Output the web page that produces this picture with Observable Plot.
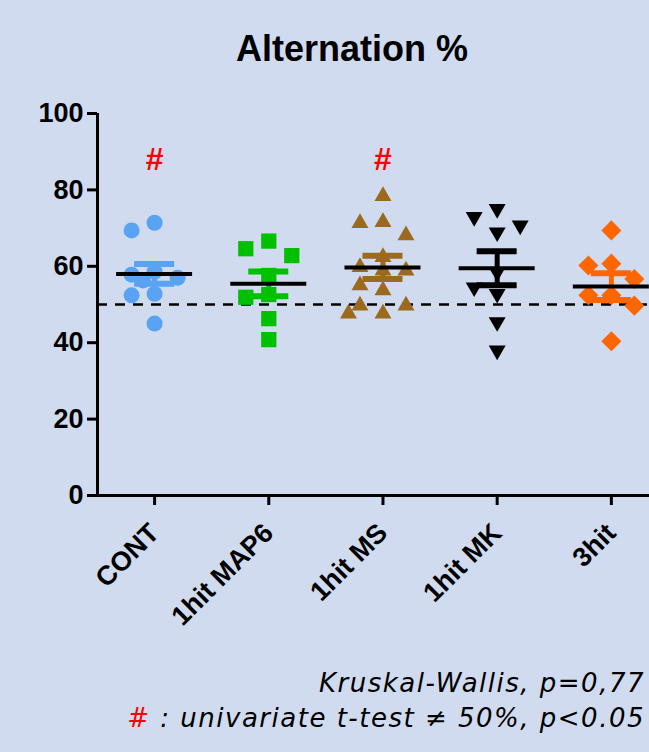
<!DOCTYPE html>
<html><head><meta charset="utf-8">
<script src="https://cdn.jsdelivr.net/npm/d3@7"></script>
<script src="https://cdn.jsdelivr.net/npm/@observablehq/plot@0.6"></script>
<style>
html,body{margin:0;padding:0;background:#d0dbef;}
#page{position:relative;width:649px;height:752px;overflow:hidden;background:#d0dbef;font-family:"Liberation Sans",Arial,sans-serif;color:#000;}
#title{position:absolute;top:29px;left:0;width:649px;padding-left:55px;box-sizing:border-box;text-align:center;font-weight:bold;font-size:36px;line-height:40px;}
#chart{position:absolute;top:90px;left:0;}
#caption{position:absolute;right:4px;top:666px;text-align:right;font-style:italic;font-size:26px;line-height:35px;letter-spacing:1.5px;font-family:"DejaVu Sans",sans-serif;white-space:nowrap;}
</style></head>
<body><div id="page">
<div id="title">Alternation %</div>
<div id="chart"></div>
<div id="caption">Kruskal-Wallis, p=0,77<br><span style="color:#ff0000">#</span> : univariate t-test ≠ 50%, p&lt;0.05</div>
</div>
<script>
// ---- data ----
const categories = ["CONT", "1hit MAP6", "1hit MS", "1hit MK", "3hit"];
const contValues = [71.4, 69.4, 58.6, 57.8, 57.0, 56.3, 52.8, 52.4, 45.0];
const map6Values = [66.6, 64.6, 62.8, 57.6, 52.6, 51.9, 46.3, 40.8];
const msValues = [78.4, 71.6, 71.3, 68.1, 62.4, 59.8, 58.9, 58.9, 55.0, 53.7, 49.7, 49.7, 47.6, 47.6];
const mkValues = [75.0, 72.9, 70.7, 68.9, 58.5, 54.5, 52.8, 45.4, 38.0];
const hit3Values = [69.4, 60.7, 60.2, 56.7, 52.4, 52.4, 49.7, 40.4];
const means = [58.0, 55.4, 59.7, 59.5, 54.7];
const sems = [2.6, 3.25, 3.05, 4.45, 3.5];
const significance = ["#", "", "#", "", ""];
const yTicks = [0, 20, 40, 60, 80, 100];
const chanceLevel = 50;
const sigLevel = 88;

// ---- styles ----
const groupValues = [contValues, map6Values, msValues, mkValues, hit3Values];
const colors = ["#5aa2f2", "#00c000", "#9b6a1f", "#000000", "#ff6600"];
const symbols = ["circle", "square", "triangle", "triangle", "square"];
const rotations = [0, 0, 0, 180, 45];
const radii = [8, 8.6, 6.3, 6.3, 8];

// ---- layout ----
const W = 649, H = 570, mL = 97, mR = 0, mT = 23, mB = 165;
const xDomain = [-0.5, 4.334];
const pxX = (W - mL - mR) / (xDomain[1] - xDomain[0]);
const pxY = (H - mT - mB) / 100;

// simple column-swarm layout (pixel offsets around the category centre)
function swarm(values, minDist) {
  const order = values.map((v, i) => i).sort((a, b) => values[b] - values[a]);
  const cands = [0, -23, 23, -11.5, 11.5, -34.5, 34.5];
  const placed = [];
  const off = new Array(values.length);
  for (const i of order) {
    const y = values[i] * pxY;
    let chosen = null, bestC = 0, bestD = -1;
    for (const c of cands) {
      let m = Infinity;
      for (const p of placed) m = Math.min(m, Math.hypot(c - p.x, y - p.y));
      if (m >= minDist) { chosen = c; break; }
      if (m > bestD) { bestD = m; bestC = c; }
    }
    if (chosen === null) chosen = bestC;
    placed.push({x: chosen, y});
    off[i] = chosen;
  }
  return off;
}

const marks = [];
marks.push(Plot.ruleY([chanceLevel], {stroke: "#000", strokeWidth: 2.5, strokeDasharray: "10,8"}));
groupValues.forEach((vals, g) => {
  const off = swarm(vals, 17);
  const pts = vals.map((v, i) => ({x: g + off[i] / pxX, v}));
  marks.push(Plot.dot(pts, {x: "x", y: "v", r: radii[g], symbol: symbols[g], rotate: rotations[g], fill: colors[g], stroke: "none"}));
});
const summary = means.map((m, i) => ({i, mean: m, sem: sems[i], color: colors[i], sig: significance[i]}));
const capHalf = 20 / pxX, meanHalf = 38 / pxX;
marks.push(Plot.ruleX(summary, {x: "i", y1: d => d.mean - d.sem, y2: d => d.mean + d.sem, stroke: "color", strokeWidth: 5}));
marks.push(Plot.ruleY(summary, {y: d => d.mean + d.sem, x1: d => d.i - capHalf, x2: d => d.i + capHalf, stroke: "color", strokeWidth: 6}));
marks.push(Plot.ruleY(summary, {y: d => d.mean - d.sem, x1: d => d.i - capHalf, x2: d => d.i + capHalf, stroke: "color", strokeWidth: 6}));
marks.push(Plot.ruleY(summary, {y: "mean", x1: d => d.i - meanHalf, x2: d => d.i + meanHalf, stroke: "#000", strokeWidth: 4}));
marks.push(Plot.text(summary.filter(d => d.sig), {x: "i", y: () => sigLevel, text: "sig", fill: "#ff0000", fontSize: 32, fontWeight: "bold"}));
marks.push(Plot.axisY({ticks: yTicks, tickSize: 10, tickPadding: 4, fontSize: 27, fontWeight: "bold", strokeWidth: 3, label: null}));
marks.push(Plot.axisX({ticks: categories.map((c, i) => i), tickFormat: i => categories[i], tickRotate: -45, tickSize: 10, tickPadding: 23, fontSize: 27, fontWeight: "bold", strokeWidth: 3, label: null}));
marks.push(Plot.ruleY([0], {stroke: "#000", strokeWidth: 3}));
marks.push(Plot.ruleX([xDomain[0]], {y1: 0, y2: 100, stroke: "#000", strokeWidth: 3}));

const chart = Plot.plot({
  width: W, height: H,
  marginLeft: mL, marginRight: mR, marginTop: mT, marginBottom: mB,
  x: {domain: xDomain},
  y: {domain: [0, 100]},
  style: {background: "transparent", fontFamily: "'Liberation Sans', Arial, sans-serif", color: "#000", overflow: "visible"},
  marks
});
document.getElementById("chart").appendChild(chart);
</script>
</body></html>
